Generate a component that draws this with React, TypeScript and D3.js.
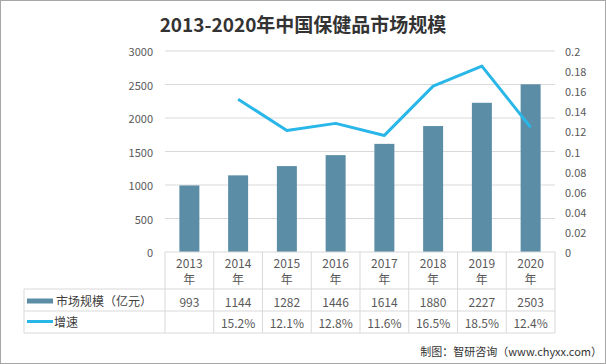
import React from 'react';
import * as d3 from 'd3';

const years = ['2013', '2014', '2015', '2016', '2017', '2018', '2019', '2020'];
const marketSize = [993, 1144, 1282, 1446, 1614, 1880, 2227, 2503];
const growth = [null, 0.152, 0.121, 0.128, 0.116, 0.165, 0.185, 0.124];
const growthLabels = ['', '15.2%', '12.1%', '12.8%', '11.6%', '16.5%', '18.5%', '12.4%'];
const leftTicks = [0, 500, 1000, 1500, 2000, 2500, 3000];
const rightTicks = [0, 0.02, 0.04, 0.06, 0.08, 0.1, 0.12, 0.14, 0.16, 0.18, 0.2];

const W = 606;
const H = 364;
const font = '"Noto Sans CJK SC", "Noto Sans", sans-serif';

const App: React.FC = () => {
  const plot = { left: 165, right: 555, top: 51, bottom: 252 };

  const x = d3.scaleBand<string>().domain(years).range([plot.left, plot.right]);
  const yLeft = d3.scaleLinear().domain([0, 3000]).range([plot.bottom, plot.top]);
  const yRight = d3.scaleLinear().domain([0, 0.2]).range([plot.bottom, plot.top]);

  const barW = x.bandwidth() * 0.41;
  const cx = (yr: string) => (x(yr) ?? 0) + x.bandwidth() / 2;

  const lineData = years
    .map((yr, i) => ({ yr, v: growth[i] }))
    .filter(d => d.v !== null) as { yr: string; v: number }[];
  const line = d3.line<{ yr: string; v: number }>()
    .x(d => cx(d.yr))
    .y(d => yRight(d.v));

  // table rows
  const rowTop = 289;
  const rowMid = 311;
  const rowBot = 333;
  const tableLeft = 24;
  const gridColor = '#d9d9d9';
  const textColor = '#595959';
  const boundaries = years.map(yr => x(yr) ?? 0).concat([plot.right]);

  return (
    <svg width={W} height={H} style={{ position: 'absolute', left: 0, top: 0, background: '#fff' }} fontFamily={font}>
      <rect x={0.5} y={0.5} width={W - 1} height={H - 1} fill="#fff" stroke="#a6a6a6" />

      <text x={W / 2} y={23} textAnchor="middle" dominantBaseline="central" fontSize={19} fontWeight="bold" fill="#333">
        2013-2020年中国保健品市场规模
      </text>

      {/* gridlines */}
      {leftTicks.filter(t => t > 0).map(t => (
        <line key={t} x1={plot.left} x2={plot.right} y1={yLeft(t)} y2={yLeft(t)} stroke={gridColor} />
      ))}

      {/* left axis labels */}
      {leftTicks.map(t => (
        <text key={t} x={153} y={yLeft(t)} textAnchor="end" dominantBaseline="central" fontSize={11} fill={textColor}>
          {t}
        </text>
      ))}

      {/* right axis labels */}
      {rightTicks.map(t => (
        <text key={t} x={565} y={yRight(t)} textAnchor="start" dominantBaseline="central" fontSize={11} fill={textColor}>
          {d3.format('~g')(+t.toFixed(2))}
        </text>
      ))}

      {/* bars */}
      {years.map((yr, i) => (
        <rect key={yr} x={cx(yr) - barW / 2} y={yLeft(marketSize[i])} width={barW}
          height={yLeft(0) - yLeft(marketSize[i])} fill="#5B8EA6" />
      ))}

      {/* growth line */}
      <path d={line(lineData) ?? ''} fill="none" stroke="#29B6E8" strokeWidth={3} strokeLinejoin="round" />

      {/* data table */}
      <line x1={plot.left} x2={plot.right} y1={plot.bottom} y2={plot.bottom} stroke={gridColor} />
      {[rowTop, rowMid, rowBot].map(yy => (
        <line key={yy} x1={tableLeft} x2={plot.right} y1={yy} y2={yy} stroke={gridColor} />
      ))}
      <line x1={tableLeft} x2={tableLeft} y1={rowTop} y2={rowBot} stroke={gridColor} />
      {boundaries.map((bx, i) => (
        <line key={i} x1={bx} x2={bx} y1={plot.bottom} y2={rowBot} stroke={gridColor} />
      ))}

      {years.map((yr, i) => (
        <g key={yr} fontSize={12} fill={textColor} textAnchor="middle">
          <text x={cx(yr)} y={262} dominantBaseline="central">{yr}</text>
          <text x={cx(yr)} y={278.5} dominantBaseline="central">年</text>
          <text x={cx(yr)} y={301} dominantBaseline="central">{marketSize[i]}</text>
          <text x={cx(yr)} y={322} dominantBaseline="central">{growthLabels[i]}</text>
        </g>
      ))}

      {/* legend keys */}
      <rect x={27} y={298.5} width={26} height={5} fill="#5B8EA6" />
      <text x={56} y={300.5} dominantBaseline="central" fontSize={12} fill="#404040">市场规模（亿元）</text>
      <line x1={27} x2={53} y1={321.5} y2={321.5} stroke="#29B6E8" strokeWidth={3} />
      <text x={54} y={321.5} dominantBaseline="central" fontSize={12} fill="#404040">增速</text>

      <text x={602} y={351} textAnchor="end" dominantBaseline="central" fontSize={11} fill="#333">
        制图：智研咨询（www.chyxx.com）
      </text>
    </svg>
  );
};

export default App;
